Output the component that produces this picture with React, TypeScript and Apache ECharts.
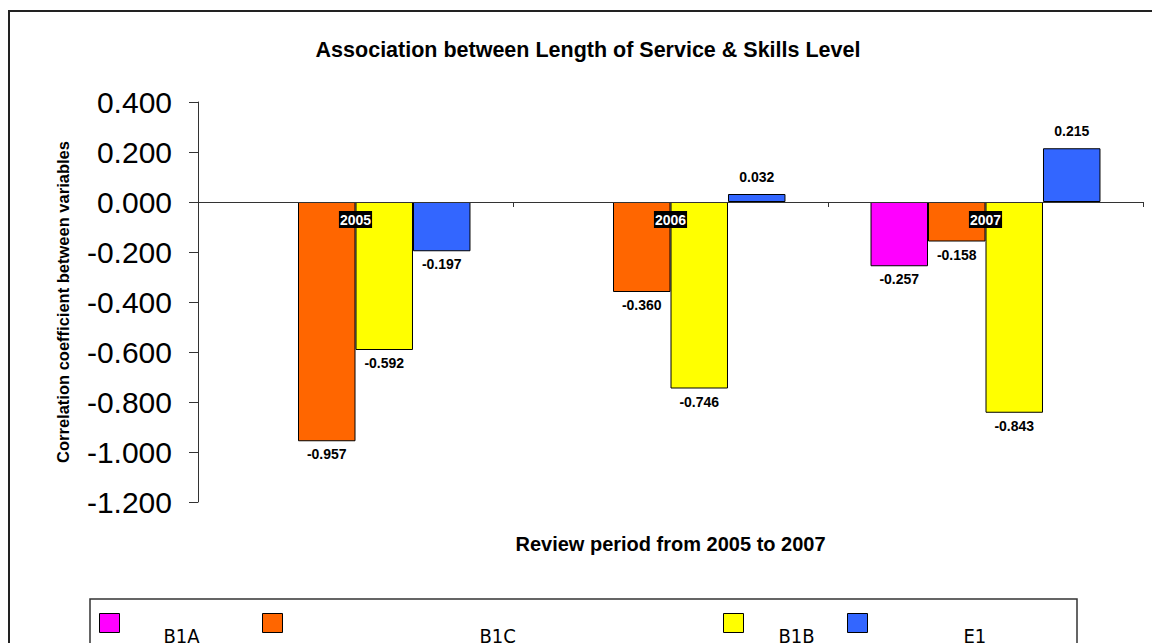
import React, { useEffect, useRef } from "react";
import * as echarts from "echarts";

// Review years on the category axis
const categories = ["2005", "2006", "2007"];

// Correlation coefficients per skill group (null = not reported that year)
const b1a: (number | null)[] = [null, null, -0.257];
const b1c: (number | null)[] = [-0.957, -0.36, -0.158];
const b1b: (number | null)[] = [-0.592, -0.746, -0.843];
const e1: (number | null)[] = [-0.197, 0.032, 0.215];

// Value axis range
const yMin = -1.2;
const yMax = 0.4;
const yStep = 0.2;

const FONT = "'Liberation Sans', Arial, sans-serif";
const LEGEND_FONT = "'DejaVu Sans Condensed', 'DejaVu Sans', sans-serif";

const seriesDefs = [
  { name: "B1A", values: b1a, color: "#FF00FF" },
  { name: "B1C", values: b1c, color: "#FF6600" },
  { name: "B1B", values: b1b, color: "#FFFF00" },
  { name: "E1", values: e1, color: "#3366FF" },
];

// Legend entries: icon position and gap before the label
const legendSlots = [
  { left: 99, textGap: 39 },
  { left: 262, textGap: 192 },
  { left: 723, textGap: 30 },
  { left: 847, textGap: 91 },
];

function toBarData(values: (number | null)[]) {
  return values.map((v) =>
    v == null
      ? "-"
      : {
          value: v,
          label: {
            position: v < 0 ? "bottom" : "top",
            distance: v < 0 ? 6 : 10,
          },
        }
  );
}

export default function App() {
  const ref = useRef<HTMLDivElement>(null);

  useEffect(() => {
    if (!ref.current) return;
    const chart = echarts.init(ref.current, undefined, { renderer: "svg" });

    const option: any = {
      animation: false,
      backgroundColor: "#ffffff",
      title: {
        text: "Association between Length of Service & Skills Level",
        left: 583,
        textAlign: "center",
        top: 34,
        textStyle: {
          fontFamily: FONT,
          fontWeight: "bold",
          fontSize: 21.5,
          color: "#000",
        },
      },
      legend: seriesDefs.map((s, i) => ({
        data: [s.name],
        left: legendSlots[i].left,
        top: 598,
        padding: 0,
        itemWidth: 20,
        itemHeight: 19,
        icon: "rect",
        itemStyle: { borderColor: "#000", borderWidth: 1 },
        formatter: (name: string) => "\n" + name,
        textStyle: {
          fontFamily: LEGEND_FONT,
          fontSize: 20,
          lineHeight: 25,
          color: "#000",
          padding: [0, 0, 0, legendSlots[i].textGap],
        },
        selectedMode: false,
      })),
      grid: {
        left: 198,
        right: 9,
        top: 102,
        bottom: 141,
        containLabel: false,
        outerBoundsMode: "none",
      },
      xAxis: {
        type: "category",
        data: categories,
        z: 5,
        name: "Review period from 2005 to 2007",
        nameLocation: "middle",
        nameGap: 32,
        nameTextStyle: {
          fontFamily: FONT,
          fontWeight: "bold",
          fontSize: 20,
          color: "#000",
        },
        axisLine: { onZero: true, lineStyle: { color: "#333", width: 1 } },
        axisTick: { show: true, length: 5, lineStyle: { color: "#333" } },
        // year tags sit just under the zero line, on top of the bars
        axisLabel: {
          inside: true,
          margin: 274,
          fontFamily: FONT,
          fontWeight: "bold",
          fontSize: 14,
          color: "#fff",
          backgroundColor: "#000",
          padding: [2, 1, 1, 1],
        },
        splitLine: { show: false },
      },
      yAxis: {
        type: "value",
        min: yMin,
        max: yMax,
        interval: yStep,
        name: "Correlation coefficient between variables",
        nameLocation: "middle",
        nameGap: 127,
        nameTextStyle: {
          fontFamily: FONT,
          fontWeight: "bold",
          fontSize: 16.5,
          color: "#000",
        },
        axisLine: { show: true, lineStyle: { color: "#333", width: 1 } },
        axisTick: { show: true, length: 9, lineStyle: { color: "#333" } },
        axisLabel: {
          margin: 26,
          fontFamily: FONT,
          fontSize: 30,
          color: "#000",
          formatter: (v: number) => v.toFixed(3),
        },
        splitLine: { show: false },
      },
      series: seriesDefs.map((s) => ({
        type: "bar",
        name: s.name,
        data: toBarData(s.values),
        barGap: "0%",
        barCategoryGap: "27%",
        itemStyle: { color: s.color, borderColor: "#000", borderWidth: 1 },
        label: {
          show: true,
          fontFamily: FONT,
          fontWeight: "bold",
          fontSize: 14,
          color: "#000",
          formatter: (p: any) => Number(p.value).toFixed(3),
        },
      })),
      graphic: [
        {
          type: "rect",
          shape: { x: 9, y: 11, width: 1300, height: 800 },
          style: { fill: "none", stroke: "#222", lineWidth: 2 },
          silent: true,
        },
        {
          type: "rect",
          shape: { x: 90, y: 599, width: 987, height: 100 },
          style: { fill: "none", stroke: "#333", lineWidth: 1.5 },
          silent: true,
        },
      ],
    };

    chart.setOption(option);
    return () => chart.dispose();
  }, []);

  return (
    <div
      ref={ref}
      style={{ position: "fixed", left: 0, top: 0, width: 1152, height: 643 }}
    />
  );
}
